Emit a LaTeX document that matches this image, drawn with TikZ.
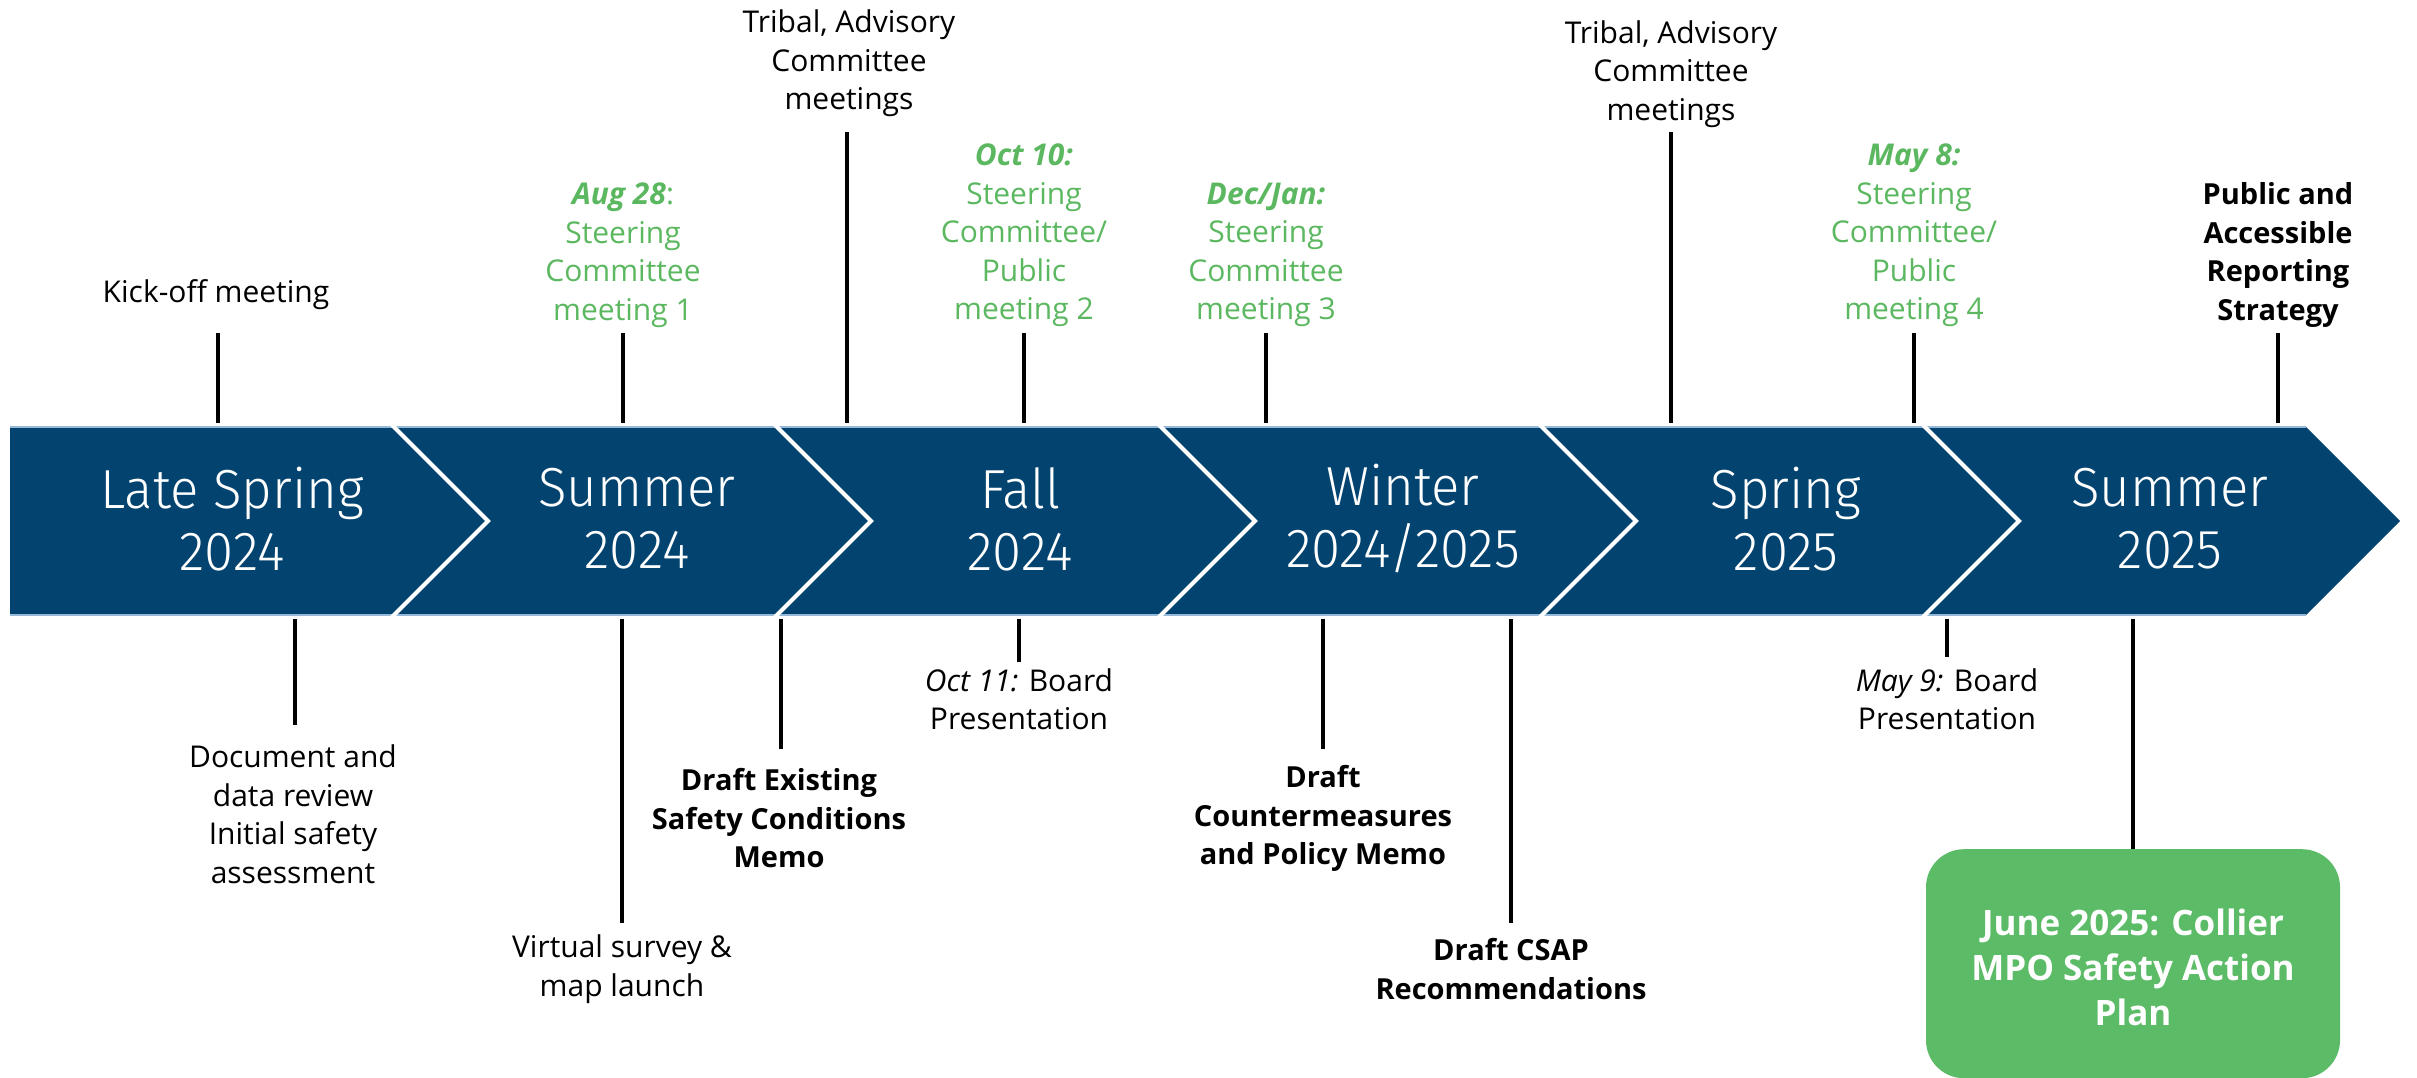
\documentclass[tikz,border=0pt]{standalone}
\usepackage{fontspec}
\setmainfont{Open Sans}
\newfontfamily\seasonfont[FakeStretch=0.96]{Fira Sans Light}
\definecolor{bandblue}{RGB}{3,67,111}
\definecolor{bandedge}{RGB}{150,185,215}
\definecolor{boxgreen}{RGB}{91,187,102}
\definecolor{txtgreen}{RGB}{92,184,96}
\begin{document}
\begin{tikzpicture}[x=1pt,y=-1pt,
  lbl/.style={align=center, inner sep=0pt, font=\fontsize{30}{38.5}\selectfont},
  glbl/.style={lbl, text=txtgreen},
  blbl/.style={align=center, inner sep=0pt, font=\fontsize{29}{38.5}\selectfont\bfseries},
  season/.style={align=center, inner sep=0pt, text=white, font=\seasonfont\fontsize{55}{62}\selectfont},
  tick/.style={line width=4.5pt, black},
  chev/.style={white, line width=4pt},
  finalbox/.style={fill=boxgreen, rounded corners=38pt, draw=none}]
\useasboundingbox (0,0) rectangle (2417,1078);

% band
\fill[bandblue] (10,427) -- (2306,427) -- (2400,521) -- (2306,615) -- (10,615) -- cycle;
\draw[bandedge, line width=1.5pt] (10,427) -- (2306,427);
\draw[bandedge, line width=1.5pt] (10,615) -- (2306,615);
\foreach \x in {392,775,1159,1540,1923}
  \draw[chev] (\x,425) -- (\x+96,521) -- (\x,617);

% seasons
\node[season] (s1) at (232,519) {Late Spring\\2024};
\node[season] (s2) at (637,519) {Summer\\2024};
\node[season] (s3) at (1020,519) {Fall\\2024};
\node[season] (s4) at (1403,519) {Winter\\2024/2025};
\node[season] (s5) at (1786,519) {Spring\\2025};
\node[season] (s6) at (2170,519) {Summer\\2025};

% top labels
\node[lbl] (kick) at (216,295) {Kick-off meeting};
\node[glbl] (aug) at (623,255) {\textbf{\textit{Aug 28}}:\\Steering\\Committee\\meeting 1};
\node[lbl] (trib1) at (849,63.5) {Tribal, Advisory\\Committee\\meetings};
\node[glbl] (oct10) at (1024,235.5) {\textbf{\textit{Oct 10:}}\\Steering\\Committee/\\Public\\meeting 2};
\node[glbl] (dec) at (1266,255) {\textbf{\textit{Dec/Jan:}}\\Steering\\Committee\\meeting 3};
\node[lbl] (trib2) at (1671,74) {Tribal, Advisory\\Committee\\meetings};
\node[glbl] (may8) at (1914,235.5) {\textbf{\textit{May 8:}}\\Steering\\Committee/\\Public\\meeting 4};
\node[blbl] (pub) at (2278,255) {Public and\\Accessible\\Reporting\\Strategy};

% bottom labels
\node[lbl] (doc) at (293,814) {Document and\\data review\\Initial safety\\assessment};
\node[lbl] (virt) at (622,969) {Virtual survey \&\\map launch};
\node[blbl] (dex) at (779,818.5) {Draft Existing\\Safety Conditions\\Memo};
\node[lbl] (oct11) at (1019,699) {\textit{Oct 11:} Board\\Presentation};
\node[blbl] (dcm) at (1323,818.5) {Draft\\Countermeasures\\and Policy Memo};
\node[blbl] (csap) at (1511,969) {Draft CSAP\\Recommendations};
\node[lbl] (may9) at (1947,699) {\textit{May 9:} Board\\Presentation};
\node[finalbox, minimum width=414pt, minimum height=229pt, anchor=north] (june) at (2133,849) {};
\node[align=center, inner sep=0pt, text=white, font=\fontsize{35}{45}\selectfont\bfseries] (junetxt) at (2133,967) {June 2025: Collier\\MPO Safety Action\\Plan};

% tick coordinates
\foreach \n/\x/\ya in {kick/218/333, aug/623/333, trib1/847/132, oct10/1024/333, dec/1266/333, trib2/1671/132, may8/1914/333, pub/2278/333}{
  \coordinate (\n T) at (\x,\ya);
  \coordinate (\n B) at (\x,423);
}
\foreach \n/\x/\yb in {doc/295/725, virt/622/923, dex/781/749, oct11/1019/662, dcm/1323/749, csap/1511/923, may9/1947/657}{
  \coordinate (\n T) at (\x,619);
  \coordinate (\n B) at (\x,\yb);
}
\coordinate (juneT) at (2133,619);

\foreach \n in {kick,aug,trib1,oct10,dec,trib2,may8,pub,doc,virt,dex,oct11,dcm,csap,may9}
  \draw[tick] (\n T) -- (\n B);
\draw[tick] (juneT) -- (june.north);
\end{tikzpicture}
\end{document}
